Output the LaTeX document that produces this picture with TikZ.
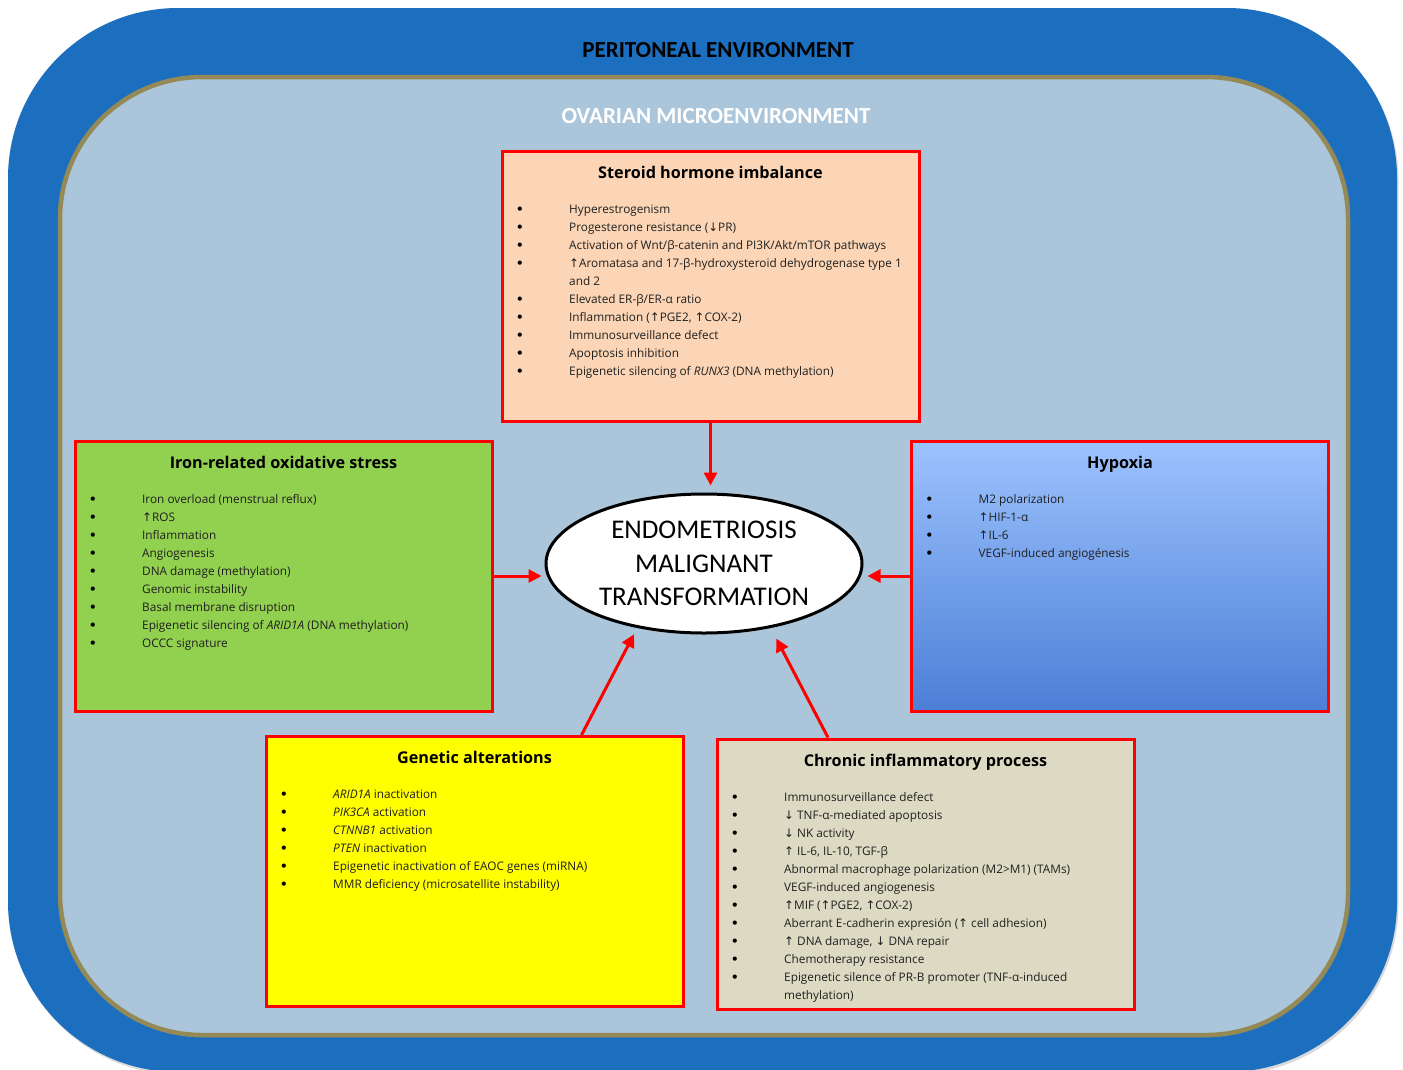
\documentclass[tikz,border=0pt]{standalone}
\usepackage{fontspec}
\setmainfont{Open Sans}
\newfontfamily\calib{Carlito}
\newfontfamily\dejavu{DejaVu Sans}
\usetikzlibrary{arrows.meta,shapes.geometric,shadows}

\definecolor{periblue}{HTML}{1C6FBF}
\definecolor{ovaryfill}{HTML}{ABC6DA}
\definecolor{ovaryline}{HTML}{958A55}
\definecolor{peach}{HTML}{FBD5B5}
\definecolor{irongreen}{HTML}{92D050}
\definecolor{hyptop}{HTML}{9DC3FE}
\definecolor{hypbot}{HTML}{4B7ED6}
\definecolor{chronbeige}{HTML}{DDDAC3}
\definecolor{genyellow}{HTML}{FFFF00}

\newcommand{\incr}{{\dejavu ↑}}
\newcommand{\decr}{{\dejavu ↓}}
\newcommand{\dotitem}{\makebox[53.5pt][l]{\raisebox{-1.5pt}{\dejavu\fontsize{14.5}{18}\selectfont\color{black}•}}}
\newcommand{\bulletlist}[1]{\begin{tabular}[t]{@{}l@{}l@{}}#1\end{tabular}}

\tikzset{
  factor/.style={draw=red, line width=3pt, minimum width=417pt, minimum height=270pt, inner sep=0pt},
  factortitle/.style={anchor=base, inner sep=0pt, font=\bfseries\fontsize{16.2}{18}\selectfont},
  factorlist/.style={anchor=base west, inner sep=0pt, text=black!88, font=\fontsize{11.8}{18}\selectfont},
  push/.style={draw=red, line width=3pt, -{Triangle[length=13pt,width=13pt]}},
}

\begin{document}
\begin{tikzpicture}[x=1pt,y=-1pt]
\useasboundingbox (0,0) rectangle (1403,1069);

% environments
\fill[periblue, rounded corners=170pt, drop shadow={opacity=.3, shadow xshift=1.5pt, shadow yshift=-2.5pt}]
  (8,8) rectangle (1397,1072);
\filldraw[fill=ovaryfill, draw=ovaryline, line width=4.5pt, rounded corners=142pt,
  drop shadow={opacity=.3, shadow xshift=1.5pt, shadow yshift=-2.5pt}]
  (60,77) rectangle (1348,1035);
\node[font=\calib\bfseries\fontsize{23}{26}\selectfont] (peri) at (718,50) {PERITONEAL ENVIRONMENT};
\node[font=\calib\bfseries\fontsize{23}{26}\selectfont, text=white] (ovar) at (716,116) {OVARIAN MICROENVIRONMENT};

% centre
\node[ellipse, draw=black, line width=3pt, fill=white, minimum width=316pt, minimum height=139pt,
  inner sep=0pt, align=center, font=\calib\fontsize{27}{33.5}\selectfont] (emt) at (704,563.5)
  {ENDOMETRIOSIS\\MALIGNANT\\TRANSFORMATION};

% factors
\node[factor, fill=peach] (steroid) at (710.5,286) {};
\node[factortitle] (steroidtitle) at ([yshift=-29pt]steroid.north) {Steroid hormone imbalance};
\node[factorlist] (steroidlist) at ([xshift=15pt,yshift=-63.5pt]steroid.north west) {\bulletlist{%
\dotitem & Hyperestrogenism\\
\dotitem & Progesterone resistance (\decr PR)\\
\dotitem & Activation of Wnt/β-catenin and PI3K/Akt/mTOR pathways\\
\dotitem & \incr Aromatasa and 17-β-hydroxysteroid dehydrogenase type 1\\
 & and 2\\
\dotitem & Elevated ER-β/ER-α ratio\\
\dotitem & Inflammation (\incr PGE2, \incr COX-2)\\
\dotitem & Immunosurveillance defect\\
\dotitem & Apoptosis inhibition\\
\dotitem & Epigenetic silencing of \textit{RUNX3} (DNA methylation)}};

\node[factor, fill=irongreen] (iron) at (283.5,576) {};
\node[factortitle] (irontitle) at ([yshift=-29pt]iron.north) {Iron-related oxidative stress};
\node[factorlist] (ironlist) at ([xshift=15pt,yshift=-63.5pt]iron.north west) {\bulletlist{%
\dotitem & Iron overload (menstrual reflux)\\
\dotitem & \incr ROS\\
\dotitem & Inflammation\\
\dotitem & Angiogenesis\\
\dotitem & DNA damage (methylation)\\
\dotitem & Genomic instability\\
\dotitem & Basal membrane disruption\\
\dotitem & Epigenetic silencing of \textit{ARID1A} (DNA methylation)\\
\dotitem & OCCC signature}};

\node[factor, top color=hyptop, bottom color=hypbot] (hyp) at (1120,576) {};
\node[factortitle] (hyptitle) at ([yshift=-29pt]hyp.north) {Hypoxia};
\node[factorlist] (hyplist) at ([xshift=15pt,yshift=-63.5pt]hyp.north west) {\bulletlist{%
\dotitem & M2 polarization\\
\dotitem & \incr HIF-1-α\\
\dotitem & \incr IL-6\\
\dotitem & VEGF-induced angiogénesis}};

\node[factor, fill=genyellow] (gen) at (474.5,871.5) {};
\node[factortitle] (gentitle) at ([yshift=-28pt]gen.north) {Genetic alterations};
\node[factorlist] (genlist) at ([xshift=15pt,yshift=-63pt]gen.north west) {\bulletlist{%
\dotitem & \textit{ARID1A} inactivation\\
\dotitem & \textit{PIK3CA} activation\\
\dotitem & \textit{CTNNB1} activation\\
\dotitem & \textit{PTEN} inactivation\\
\dotitem & Epigenetic inactivation of EAOC genes (miRNA)\\
\dotitem & MMR deficiency (microsatellite instability)}};

\node[factor, fill=chronbeige] (chr) at (925.5,874) {};
\node[factortitle] (chrtitle) at ([yshift=-29pt]chr.north) {Chronic inflammatory process};
\node[factorlist] (chrlist) at ([xshift=15pt,yshift=-63.5pt]chr.north west) {\bulletlist{%
\dotitem & Immunosurveillance defect\\
\dotitem & \decr\ TNF-α-mediated apoptosis\\
\dotitem & \decr\ NK activity\\
\dotitem & \incr\ IL-6, IL-10, TGF-β\\
\dotitem & Abnormal macrophage polarization (M2>M1) (TAMs)\\
\dotitem & VEGF-induced angiogenesis\\
\dotitem & \incr MIF (\incr PGE2, \incr COX-2)\\
\dotitem & Aberrant E-cadherin expresión (\incr\ cell adhesion)\\
\dotitem & \incr\ DNA damage, \decr\ DNA repair\\
\dotitem & Chemotherapy resistance\\
\dotitem & Epigenetic silence of PR-B promoter (TNF-α-induced\\
 & methylation)}};

% arrows into the centre
\draw[push, shorten >=7pt] (steroid) -- (steroid |- emt.north);
\draw[push, shorten >=3pt] (iron.east) -- (emt.west |- iron.east);
\draw[push, shorten >=4pt] (hyp.west) -- (emt.east |- hyp.west);
\draw[push, shorten >=7pt] ([xshift=107pt]gen.north) -- (emt.224);
\draw[push, shorten >=12pt] ([xshift=-97.5pt]chr.north) -- (emt.316);
\end{tikzpicture}
\end{document}
